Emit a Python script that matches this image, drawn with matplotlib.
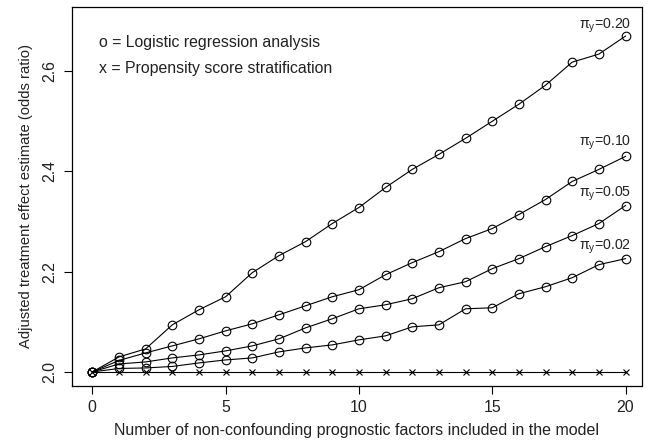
import matplotlib
matplotlib.use("Agg")
import matplotlib.pyplot as plt

plt.rcParams['font.family'] = ['Liberation Sans', 'DejaVu Sans']
plt.rcParams['mathtext.fontset'] = 'custom'
plt.rcParams['mathtext.rm'] = 'Liberation Sans'
plt.rcParams['mathtext.it'] = 'Liberation Sans'

n_factors = list(range(21))

logit_020 = [2.000, 2.030, 2.046, 2.094, 2.124, 2.150, 2.198, 2.232, 2.260, 2.296, 2.328,
             2.368, 2.404, 2.434, 2.466, 2.500, 2.534, 2.572, 2.618, 2.634, 2.670]
logit_010 = [2.000, 2.023, 2.038, 2.052, 2.066, 2.082, 2.096, 2.114, 2.132, 2.150, 2.164,
             2.194, 2.218, 2.240, 2.266, 2.286, 2.314, 2.344, 2.380, 2.404, 2.430]
logit_005 = [2.000, 2.016, 2.020, 2.028, 2.034, 2.042, 2.052, 2.066, 2.088, 2.106, 2.126,
             2.134, 2.146, 2.168, 2.180, 2.206, 2.226, 2.250, 2.272, 2.296, 2.332]
logit_002 = [2.000, 2.007, 2.008, 2.011, 2.018, 2.024, 2.028, 2.040, 2.048, 2.054, 2.064,
             2.072, 2.090, 2.094, 2.126, 2.128, 2.156, 2.170, 2.188, 2.214, 2.226]
propensity = [2.000] * 21

series = [logit_020, logit_010, logit_005, logit_002]
series_labels = [r'$\pi_{\mathrm{y}}$=0.20', r'$\pi_{\mathrm{y}}$=0.10',
                 r'$\pi_{\mathrm{y}}$=0.05', r'$\pi_{\mathrm{y}}$=0.02']
label_y = [2.690, 2.458, 2.355, 2.249]
label_x = 19.25

xticks = [0, 5, 10, 15, 20]
yticks = [2.0, 2.2, 2.4, 2.6]
ytick_labels = ['2.0', '2.2', '2.4', '2.6']

fig = plt.figure(figsize=(6.48, 4.42), dpi=100)
W, H = 648, 442
left, right, top, bottom = 71.5, 641.5, 7, 386
ax = fig.add_axes([left / W, 1 - bottom / H, (right - left) / W, (bottom - top) / H])

for s in series:
    ax.plot(n_factors, s, color='black', lw=0.8, marker='o', markersize=6.2,
            markerfacecolor='none', markeredgecolor='black', markeredgewidth=0.8)
ax.plot(n_factors, propensity, color='black', lw=0.8, marker='x', markersize=5,
        markeredgewidth=0.8)

for lab, ly in zip(series_labels, label_y):
    ax.text(label_x, ly, lab, ha='center', va='center', fontsize=10.2, color='#222222')

ax.text(0.27, 2.657, 'o = Logistic regression analysis', ha='left', va='center',
        fontsize=11.4, color='#222222')
ax.text(0.27, 2.605, 'x = Propensity score stratification', ha='left', va='center',
        fontsize=11.4, color='#222222')

ax.set_xlim(-0.78, 20.6)
ax.set_ylim(1.972, 2.728)
ax.set_xticks(xticks)
ax.set_yticks(yticks)
ax.set_yticklabels(ytick_labels, rotation=90, va='center')
ax.tick_params(axis='both', direction='out', length=6, width=0.8, labelsize=11.4, pad=4,
               labelcolor='#222222')
for sp in ax.spines.values():
    sp.set_linewidth(0.9)

ax.set_xlabel('Number of non-confounding prognostic factors included in the model',
              fontsize=11.5, labelpad=6, color='#222222')
ax.set_ylabel('Adjusted treatment effect estimate (odds ratio)', fontsize=10.6,
              labelpad=7, color='#222222')

fig.savefig('out.png', dpi=100)
